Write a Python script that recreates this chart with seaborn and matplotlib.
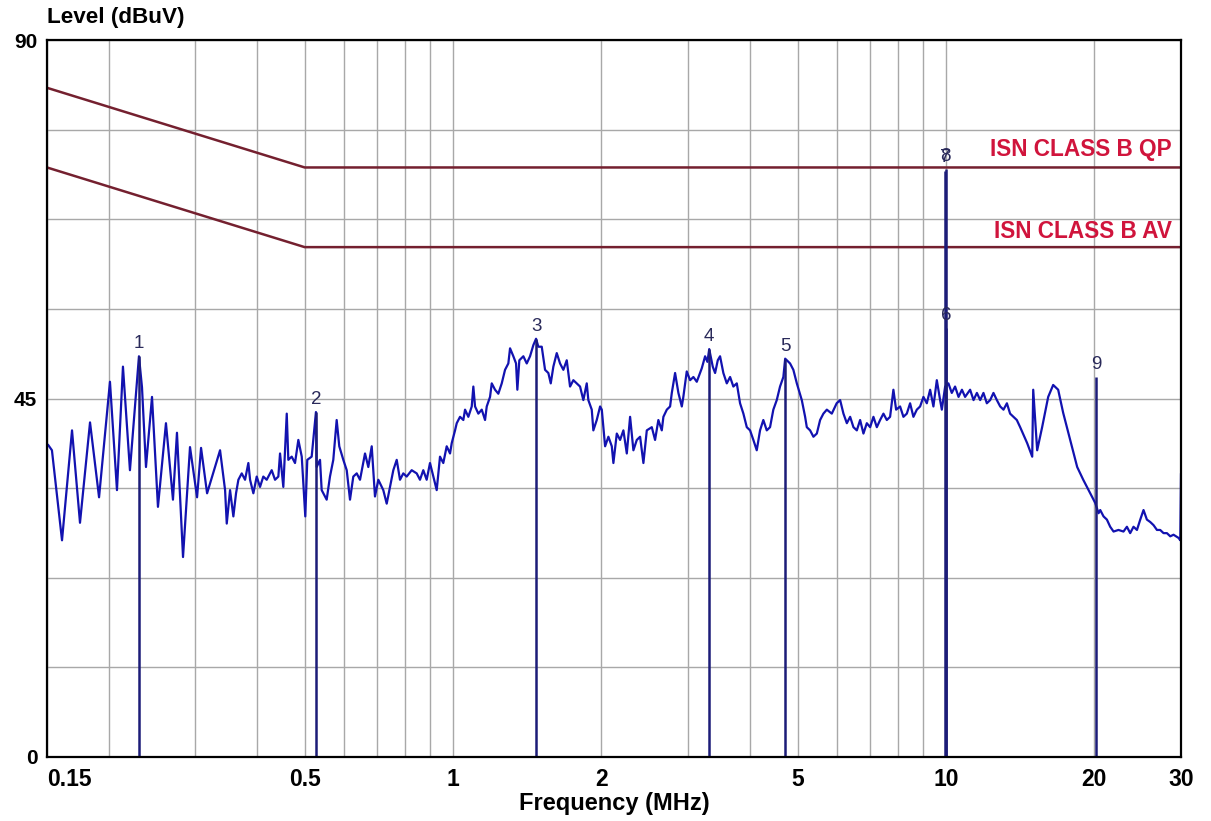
import matplotlib
matplotlib.use("Agg")
import matplotlib.pyplot as plt
import matplotlib.transforms as mtransforms
import pandas as pd
import seaborn as sns

# ---------------- data ----------------
freq_mhz = [
    0.1507, 0.1535, 0.1609, 0.1686, 0.1750, 0.1834, 0.1913, 0.2013, 0.2080, 0.2139,
    0.2210, 0.2305, 0.2338, 0.2382, 0.2450, 0.2519, 0.2615, 0.2702, 0.2753, 0.2832,
    0.2926, 0.3024, 0.3081, 0.3169, 0.3367, 0.3447, 0.3474, 0.3528, 0.3583, 0.3628,
    0.3668, 0.3726, 0.3784, 0.3843, 0.3874, 0.3934, 0.3996, 0.4058, 0.4121, 0.4187,
    0.4286, 0.4353, 0.4421, 0.4456, 0.4525, 0.4598, 0.4632, 0.4706, 0.4779, 0.4854,
    0.4932, 0.5014, 0.5061, 0.5166, 0.5270, 0.5288, 0.5371, 0.5413, 0.5541, 0.5627,
    0.5715, 0.5806, 0.5877, 0.5989, 0.6085, 0.6179, 0.6275, 0.6376, 0.6475, 0.6628,
    0.6731, 0.6839, 0.6944, 0.7053, 0.7219, 0.7335, 0.7449, 0.7565, 0.7686, 0.7805,
    0.7926, 0.8052, 0.8243, 0.8438, 0.8569, 0.8702, 0.8841, 0.8979, 0.9119, 0.9265,
    0.9409, 0.9555, 0.9708, 0.9861, 0.9939, 1.0094, 1.0174, 1.0332, 1.0493, 1.0577,
    1.0741, 1.0913, 1.0995, 1.1083, 1.1255, 1.1435, 1.1613, 1.1705, 1.1887, 1.1982,
    1.2168, 1.2357, 1.2555, 1.2750, 1.2948, 1.3052, 1.3255, 1.3423, 1.3505, 1.3631,
    1.3889, 1.4111, 1.4330, 1.4553, 1.4738, 1.4897, 1.5135, 1.5371, 1.5610, 1.5786,
    1.5979, 1.6234, 1.6487, 1.6743, 1.7011, 1.7275, 1.7544, 1.7825, 1.8102, 1.8383,
    1.8677, 1.8817, 1.9119, 1.9262, 1.9571, 1.9879, 2.0037, 2.0349, 2.0665, 2.0996,
    2.1153, 2.1492, 2.1826, 2.2165, 2.2520, 2.2870, 2.3226, 2.3598, 2.3964, 2.4337,
    2.4726, 2.531, 2.570, 2.610, 2.652, 2.672, 2.715, 2.757, 2.779, 2.822,
    2.866, 2.912, 2.933, 2.980, 3.027, 3.074, 3.123, 3.197, 3.247, 3.282,
    3.310, 3.365, 3.402, 3.445, 3.482, 3.536, 3.593, 3.649, 3.705, 3.765,
    3.823, 3.883, 3.945, 4.006, 4.068, 4.133, 4.197, 4.262, 4.331, 4.398,
    4.466, 4.538, 4.608, 4.680, 4.720, 4.829, 4.904, 4.984, 5.101, 5.181,
    5.222, 5.303, 5.386, 5.472, 5.557, 5.643, 5.734, 5.869, 6.004, 6.102,
    6.197, 6.296, 6.394, 6.493, 6.597, 6.699, 6.804, 6.912, 7.020, 7.129,
    7.243, 7.355, 7.470, 7.589, 7.706, 7.826, 7.926, 8.075, 8.201, 8.332,
    8.461, 8.593, 8.731, 8.866, 9.005, 9.148, 9.291, 9.435, 9.586, 9.735,
    9.813, 9.967, 10.12, 10.28, 10.44, 10.61, 10.78, 10.94, 11.20, 11.38,
    11.56, 11.74, 11.92, 12.11, 12.30, 12.49, 12.69, 12.89, 13.09, 13.30,
    13.50, 13.71, 13.93, 14.15, 14.62, 14.97, 15.04, 15.32, 15.68, 16.13,
    16.51, 16.90, 17.30, 17.88, 18.47, 19.00, 19.63, 20.09, 20.41, 20.57,
    20.89, 21.22, 21.55, 21.89, 22.40, 22.93, 23.30, 23.66, 24.03, 24.42,
    24.80, 25.18, 25.58, 25.98, 26.39, 26.81, 27.22, 27.65, 28.09, 28.53,
    28.97, 29.66, 29.90, 30.00,
]
level_dbuv = [
    39.2, 38.5, 27.2, 41.0, 29.4, 42.0, 32.6, 47.1, 33.5, 49.0,
    36.0, 50.3, 46.4, 36.4, 45.2, 31.4, 41.9, 32.3, 40.7, 25.1,
    38.9, 32.6, 38.8, 33.1, 38.5, 33.5, 29.3, 33.5, 30.2, 33.1,
    34.8, 35.6, 34.8, 36.9, 34.8, 33.1, 35.2, 33.9, 35.2, 34.8,
    36.0, 34.8, 35.2, 38.1, 33.9, 43.1, 37.3, 37.7, 36.9, 39.8,
    37.7, 30.2, 37.3, 37.7, 43.3, 36.4, 37.3, 33.5, 32.3, 35.2,
    37.3, 42.3, 39.0, 37.3, 36.0, 32.3, 35.2, 35.6, 34.8, 38.1,
    36.4, 39.0, 32.7, 34.8, 33.5, 31.8, 33.9, 36.0, 37.3, 34.8,
    35.6, 35.2, 36.0, 35.6, 34.8, 36.0, 34.8, 36.9, 35.2, 33.5,
    37.7, 36.9, 39.0, 38.1, 39.4, 41.0, 41.9, 42.7, 42.3, 43.6,
    42.7, 44.0, 46.5, 44.0, 43.1, 43.6, 42.3, 44.0, 45.2, 46.9,
    46.1, 45.6, 46.9, 48.6, 49.4, 51.3, 50.3, 49.4, 46.1, 49.8,
    50.3, 49.4, 50.3, 51.7, 52.5, 51.5, 51.5, 48.6, 48.2, 46.9,
    49.0, 50.7, 49.4, 48.6, 49.8, 46.5, 47.3, 46.9, 46.5, 44.8,
    46.9, 44.8, 43.6, 41.0, 42.3, 44.0, 43.6, 39.0, 40.2, 39.0,
    36.9, 40.6, 39.8, 41.0, 38.1, 42.7, 38.5, 39.8, 40.2, 36.9,
    41.0, 41.4, 39.8, 42.3, 41.0, 42.7, 43.6, 44.0, 45.7, 48.2,
    45.7, 44.0, 45.2, 48.4, 47.3, 47.7, 47.1, 48.8, 50.3, 49.6,
    51.2, 49.0, 48.2, 49.8, 50.3, 48.2, 46.9, 47.7, 46.5, 46.9,
    44.4, 43.1, 41.4, 41.0, 39.8, 38.5, 41.0, 42.3, 41.0, 41.4,
    43.6, 44.8, 46.5, 47.7, 50.0, 49.4, 48.6, 46.9, 44.8, 42.7,
    41.4, 41.0, 40.2, 40.6, 42.3, 43.1, 43.6, 43.1, 44.4, 44.8,
    43.1, 41.9, 42.7, 41.4, 41.0, 42.3, 40.6, 41.9, 41.4, 42.7,
    41.4, 42.3, 43.1, 42.3, 42.7, 46.1, 43.6, 44.0, 42.7, 43.1,
    44.4, 42.7, 43.6, 44.0, 45.2, 44.4, 46.1, 44.0, 47.3, 44.8,
    43.6, 46.5, 46.9, 45.7, 46.5, 45.2, 46.1, 45.2, 46.1, 44.8,
    45.7, 44.8, 45.7, 44.4, 44.8, 45.7, 44.8, 44.0, 43.6, 44.4,
    43.1, 42.7, 42.3, 41.4, 39.4, 37.7, 46.1, 38.5, 41.4, 45.2,
    46.7, 46.1, 43.2, 39.8, 36.4, 34.8, 33.1, 31.9, 30.6, 31.0,
    30.2, 29.8, 28.9, 28.3, 28.5, 28.3, 28.9, 28.1, 28.9, 28.5,
    29.8, 31.0, 29.8, 29.5, 29.1, 28.5, 28.5, 28.1, 28.1, 27.7,
    27.9, 27.5, 27.2, 35.6,
]

limit_freq = [0.15, 0.5, 30.0]
limit_qp_level = [84.0, 74.0, 74.0]
limit_av_level = [74.0, 64.0, 64.0]
limit_names = ["ISN CLASS B QP", "ISN CLASS B AV"]

marker_ids = ["1", "2", "3", "4", "5", "6", "7", "8", "9"]
marker_freq = [0.2305, 0.527, 1.474, 3.31, 4.72, 10.0, 9.98, 10.0, 20.17]
marker_level = [50.3, 43.3, 52.5, 51.2, 50.0, 53.8, 73.6, 73.8, 47.7]

x_tick_values = [0.15, 0.5, 1, 2, 5, 10, 20, 30]
x_tick_labels = ["0.15", "0.5", "1", "2", "5", "10", "20", "30"]
x_grid_values = [0.2, 0.3, 0.4, 0.6, 0.7, 0.8, 0.9, 3, 4, 6, 7, 8, 9]
y_tick_values = [0, 45, 90]
y_grid_values = [11.25, 22.5, 33.75, 56.25, 67.5, 78.75]

# ---------------- figure ----------------
sns.set_theme(style="white")
plt.rcParams["font.family"] = ["Liberation Sans", "DejaVu Sans"]
plt.rcParams["text.color"] = "black"
plt.rcParams["xtick.color"] = "black"
plt.rcParams["ytick.color"] = "black"

fig = plt.figure(figsize=(12.11, 8.21), dpi=100)
ax = fig.add_axes([47 / 1211, 1 - 757 / 821, 1134 / 1211, 717 / 821])
ax.set_xscale("log")
ax.set_xlim(0.15, 30)
ax.set_ylim(0, 90)

grid_kw = dict(color="#a8a8a8", lw=1.0, zorder=0)
for v in x_tick_values + x_grid_values:
    ax.axvline(v, **grid_kw)
for v in y_tick_values + y_grid_values:
    ax.axhline(v, **grid_kw)

trace = pd.DataFrame({"f": freq_mhz, "L": level_dbuv})
sns.lineplot(data=trace, x="f", y="L", ax=ax, sort=False, estimator=None,
             color="#1212b0", lw=1.6, zorder=3)

limits = pd.DataFrame({"f": limit_freq * 2,
                       "L": limit_qp_level + limit_av_level,
                       "name": [limit_names[0]] * 3 + [limit_names[1]] * 3})
sns.lineplot(data=limits, x="f", y="L", units="name", estimator=None, ax=ax,
             color="#74202f", lw=1.8, zorder=4, sort=False)

ax.vlines(marker_freq, 0, marker_level, color="#1c1c78", lw=1.8, zorder=5)
for mid, f, L in zip(marker_ids, marker_freq, marker_level):
    ax.annotate(mid, (f, L), xytext=(0, 3), textcoords="offset points",
                ha="center", va="bottom", fontsize=13.5, color="#2a2a5a", zorder=6)

trans = mtransforms.blended_transform_factory(ax.transAxes, ax.transData)
ax.text(0.992, 76.3, limit_names[0], transform=trans, ha="right", va="center",
        fontsize=16.3, fontweight="bold", color="#d0143c")
ax.text(0.992, 66.0, limit_names[1], transform=trans, ha="right", va="center",
        fontsize=16.3, fontweight="bold", color="#d0143c")

ax.set_xticks(x_tick_values)
ax.set_xticklabels(x_tick_labels)
ax.xaxis.set_minor_locator(matplotlib.ticker.NullLocator())
ax.set_yticks(y_tick_values)
ax.set_yticklabels([str(v) for v in y_tick_values])
for lbl in ax.get_xticklabels():
    lbl.set_fontweight("bold")
    lbl.set_fontsize(16.5)
    lbl.set_color("black")
ax.get_xticklabels()[0].set_horizontalalignment("left")
for lbl in ax.get_yticklabels():
    lbl.set_fontweight("bold")
    lbl.set_fontsize(15)
    lbl.set_color("black")
ax.tick_params(axis="both", length=0)
ax.tick_params(axis="x", pad=8)
ax.tick_params(axis="y", pad=7)
ax.set_xlabel("")
ax.set_ylabel("")

for s in ax.spines.values():
    s.set_visible(True)
    s.set_color("black")
    s.set_linewidth(1.6)
    s.set_zorder(7)

fig.text(47 / 1211, 1 - 18 / 821, "Level (dBuV)", ha="left", va="center",
         fontsize=16.2, fontweight="bold", color="black")
fig.text(614 / 1211, 1 - 803 / 821, "Frequency (MHz)", ha="center", va="center",
         fontsize=17, fontweight="bold", color="black")

fig.savefig("out.png", dpi=100, facecolor="white")
